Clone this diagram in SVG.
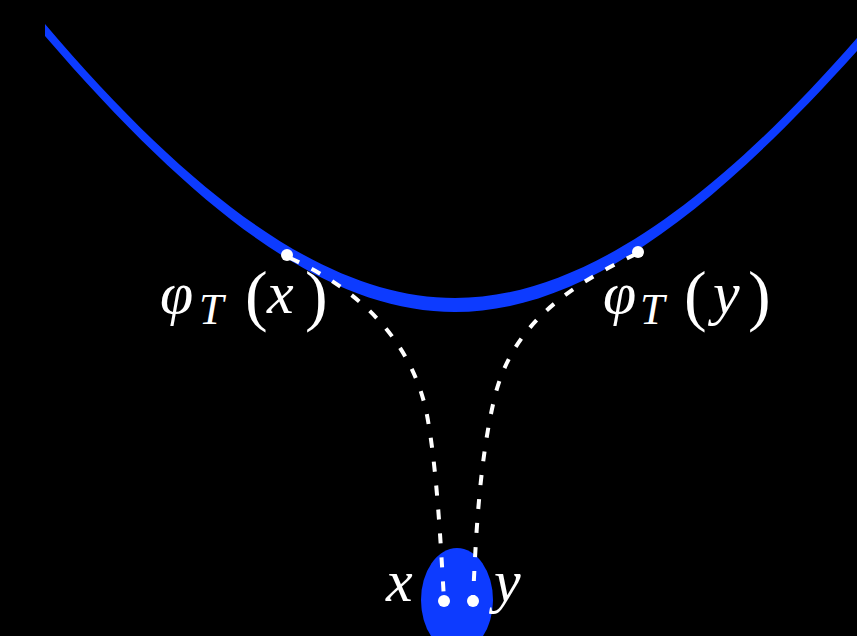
<svg xmlns="http://www.w3.org/2000/svg" width="857" height="636" viewBox="0 0 857 636">
<style>
.m{font-family:"Liberation Serif","DejaVu Serif",serif;fill:#fff;font-size:60px}
.i{font-style:italic}
.s{font-size:44px;font-style:italic}
.p{font-size:68px}
.dash{fill:none;stroke:#fff;stroke-width:4;stroke-dasharray:10 14}
.blue{fill:#0d3bff}
.dot{fill:#fff}
</style>
<rect width="857" height="636" fill="#000"/>
<g id="curve">
<path class="blue" d="M45,24 C197,203 330,298 455,298 C580,298 713,203 857,38 L857,51 C708,217 580,312 455,312 C330,312 202,218 45,36 Z"/>
</g>
<g id="blob">
<ellipse class="blue" cx="457" cy="600" rx="36" ry="52"/>
</g>
<g id="connectors">
<path class="dash" d="M290,258 C360,290 410,340 426,410 C436,460 440,530 444,600"/>
<path class="dash" d="M636,254 C560,290 510,330 494,400 C480,460 476,530 473,600"/>
</g>
<g id="phiTx">
<circle class="dot" cx="287" cy="255" r="6"/>
<text class="m"><tspan class="i" x="160" y="313">φ</tspan><tspan class="s" x="199" y="324">T</tspan><tspan class="p" x="245" y="318">(</tspan><tspan class="i" x="267" y="313">x</tspan><tspan class="p" x="305" y="318">)</tspan></text>
</g>
<g id="phiTy">
<circle class="dot" cx="638" cy="252" r="6"/>
<text class="m"><tspan class="i" x="603" y="313">φ</tspan><tspan class="s" x="640" y="324">T</tspan><tspan class="p" x="684" y="318">(</tspan><tspan class="i" x="713" y="313">y</tspan><tspan class="p" x="748" y="318">)</tspan></text>
</g>
<g id="x">
<circle class="dot" cx="444" cy="601" r="6"/>
<text class="m i" x="386" y="601">x</text>
</g>
<g id="y">
<circle class="dot" cx="473" cy="601" r="6"/>
<text class="m i" x="494" y="601">y</text>
</g>
</svg>
